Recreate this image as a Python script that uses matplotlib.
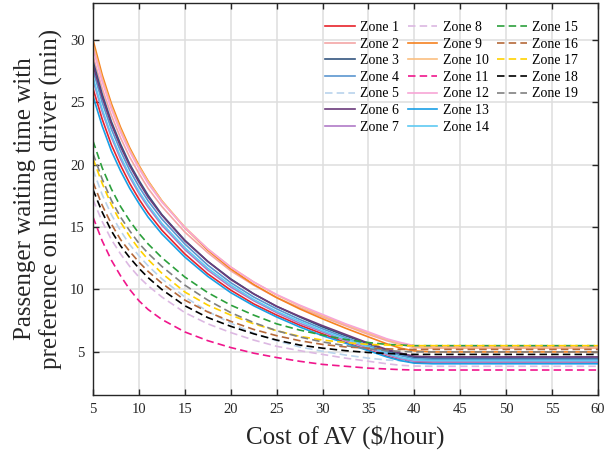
import matplotlib
matplotlib.use("Agg")
import matplotlib.pyplot as plt
from matplotlib.lines import Line2D

plt.rcParams['font.family'] = ['Liberation Serif', 'DejaVu Serif']

# cost of AV ($/hour)
cost = [5, 6, 7, 8, 9, 10, 11, 12.5, 15, 17.5, 20, 22.5, 25, 27.5, 30, 32.5, 35, 37, 38.5, 40, 42, 60]

# waiting times (min)
zone1 = [26.1, 23.65, 21.6, 19.95, 18.5, 17.25, 16.15, 14.75, 12.85, 11.25, 9.95, 8.85, 7.95, 7.15, 6.45, 5.75, 5.15, 4.65, 4.35, 4.15, 4.1, 4.1]
zone2 = [28.7, 26.1, 23.95, 22.15, 20.6, 19.3, 18.1, 16.65, 14.6, 12.95, 11.5, 10.35, 9.35, 8.55, 7.8, 7.1, 6.4, 5.9, 5.6, 5.35, 5.3, 5.3]
zone3 = [28.3, 25.65, 23.45, 21.65, 20.05, 18.75, 17.55, 16.0, 13.95, 12.25, 10.85, 9.65, 8.65, 7.8, 7.0, 6.3, 5.65, 5.1, 4.8, 4.55, 4.5, 4.5]
zone4 = [27.6, 25.0, 22.85, 21.1, 19.55, 18.25, 17.1, 15.65, 13.65, 11.95, 10.55, 9.4, 8.45, 7.6, 6.85, 6.15, 5.5, 5.0, 4.7, 4.45, 4.4, 4.4]
zone5 = [19.6, 17.6, 16.0, 14.7, 13.6, 12.7, 11.9, 10.85, 9.4, 8.25, 7.3, 6.5, 5.9, 5.4, 5.05, 4.75, 4.5, 4.35, 4.3, 4.25, 4.25, 4.25]
zone6 = [28.0, 25.4, 23.25, 21.45, 19.9, 18.6, 17.4, 15.95, 13.9, 12.25, 10.8, 9.65, 8.65, 7.85, 7.1, 6.4, 5.7, 5.2, 4.9, 4.65, 4.6, 4.6]
zone7 = [26.8, 24.25, 22.2, 20.45, 19.0, 17.7, 16.6, 15.15, 13.2, 11.55, 10.2, 9.1, 8.15, 7.3, 6.6, 5.9, 5.3, 4.8, 4.45, 4.25, 4.2, 4.2]
zone8 = [17.2, 15.45, 14.0, 12.85, 11.85, 11.0, 10.3, 9.4, 8.15, 7.25, 6.55, 5.95, 5.45, 5.1, 4.8, 4.5, 4.25, 4.05, 3.93, 3.87, 3.85, 3.85]
zone9 = [30.0, 27.2, 24.9, 23.0, 21.35, 19.95, 18.7, 17.1, 14.95, 13.15, 11.65, 10.4, 9.35, 8.45, 7.65, 6.9, 6.2, 5.65, 5.3, 5.08, 5.0, 5.0]
zone10 = [29.6, 26.9, 24.65, 22.8, 21.2, 19.85, 18.65, 17.1, 15.0, 13.25, 11.8, 10.6, 9.55, 8.7, 7.9, 7.2, 6.5, 6.0, 5.65, 5.4, 5.35, 5.35]
zone11 = [15.8, 13.9, 12.35, 11.1, 10.0, 9.1, 8.4, 7.6, 6.6, 5.9, 5.35, 4.9, 4.55, 4.25, 4.0, 3.85, 3.7, 3.63, 3.58, 3.55, 3.55, 3.55]
zone12 = [29.3, 26.65, 24.45, 22.6, 21.05, 19.7, 18.5, 17.0, 14.95, 13.25, 11.8, 10.6, 9.6, 8.75, 8.0, 7.25, 6.6, 6.05, 5.75, 5.5, 5.45, 5.45]
zone13 = [25.5, 23.1, 21.1, 19.5, 18.1, 16.9, 15.8, 14.45, 12.6, 11.05, 9.75, 8.7, 7.8, 7.0, 6.3, 5.7, 5.1, 4.6, 4.3, 4.1, 4.05, 4.05]
zone14 = [27.0, 24.45, 22.35, 20.65, 19.15, 17.85, 16.75, 15.3, 13.35, 11.7, 10.35, 9.2, 8.25, 7.45, 6.7, 6.05, 5.4, 4.9, 4.55, 4.35, 4.3, 4.3]
zone15 = [21.9, 19.75, 18.05, 16.65, 15.5, 14.5, 13.65, 12.55, 11.0, 9.75, 8.75, 7.95, 7.25, 6.75, 6.35, 6.0, 5.75, 5.6, 5.55, 5.5, 5.5, 5.5]
zone16 = [18.6, 16.75, 15.25, 14.0, 13.05, 12.2, 11.45, 10.5, 9.15, 8.2, 7.45, 6.8, 6.3, 5.9, 5.6, 5.4, 5.3, 5.25, 5.2, 5.2, 5.2, 5.2]
zone17 = [20.5, 18.5, 16.8, 15.4, 14.25, 13.25, 12.4, 11.3, 9.8, 8.75, 7.95, 7.25, 6.7, 6.25, 5.95, 5.75, 5.6, 5.55, 5.5, 5.5, 5.5, 5.5]
zone18 = [18.0, 16.2, 14.7, 13.5, 12.55, 11.7, 10.95, 10.0, 8.7, 7.75, 7.05, 6.45, 5.95, 5.55, 5.3, 5.1, 4.95, 4.88, 4.83, 4.8, 4.8, 4.8]
zone19 = [20.9, 18.85, 17.15, 15.8, 14.7, 13.7, 12.9, 11.85, 10.35, 9.15, 8.15, 7.35, 6.7, 6.2, 5.8, 5.5, 5.25, 5.1, 5.05, 5.0, 5.0, 5.0]

series = [zone1, zone2, zone3, zone4, zone5, zone6, zone7, zone8, zone9, zone10,
          zone11, zone12, zone13, zone14, zone15, zone16, zone17, zone18, zone19]
labels = ["Zone %d" % (i + 1) for i in range(19)]
colors = ['#e8232a', '#f4a5a5', '#33557f', '#5b96d0', '#b9d3ec', '#6b3b7b', '#b07ac7',
          '#dcb8e2', '#f58220', '#fbbf80', '#f0168c', '#f7a6d6', '#1aa0e6', '#5fcaf2',
          '#2ca03c', '#b5693a', '#ffd200', '#000000', '#808080']
dashed = [5, 8, 11, 15, 16, 17, 18, 19]

fig = plt.figure(figsize=(6.05, 4.54), dpi=100)
ax = fig.add_axes([0.1537, 0.130, 0.8347, 0.8634])

for i, vals in enumerate(series):
    if (i + 1) in dashed:
        ax.plot(cost, vals, color=colors[i], lw=1.2, dashes=(4.5, 2.5), label=labels[i])
    else:
        ax.plot(cost, vals, color=colors[i], lw=1.2, label=labels[i])

ax.set_xlim(5, 60)
ax.set_ylim(1.55, 32.95)
ax.set_xticks(range(5, 61, 5))
ax.set_yticks(range(5, 31, 5))
ax.grid(True, color='#dedede', lw=1.1)
ax.set_axisbelow(True)
ax.tick_params(direction='in', length=4, width=1, top=True, right=True,
               labelsize=10.5, colors='#262626', pad=6)
for s in ax.spines.values():
    s.set_color('#262626')
    s.set_linewidth(1.0)

ax.set_xlabel("Cost of AV ($/hour)", fontsize=18, color='#262626', labelpad=6)
ax.set_ylabel("Passenger waiting time with\npreference on human driver (min)",
              fontsize=18, color='#262626', labelpad=5)

# blank entry so the columns split 7 / 7 / 5
handles, labs = ax.get_legend_handles_labels()
handles.append(Line2D([], [], color='none'))
labs.append("")
ax.legend(handles, labs, ncol=3, loc='upper right', bbox_to_anchor=(0.986, 0.986),
          frameon=False, fontsize=10, handlelength=2.15, handletextpad=0.4,
          columnspacing=0.58, labelspacing=0.26, borderaxespad=0.5)

fig.savefig("out.png", dpi=100)
